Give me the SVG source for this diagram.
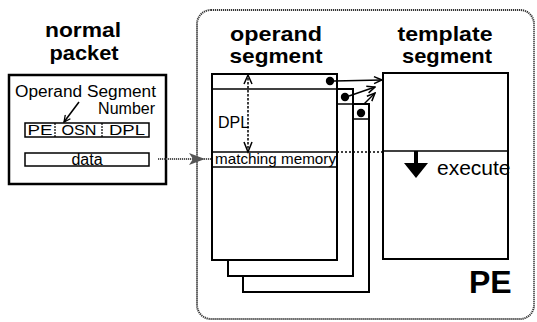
<svg xmlns="http://www.w3.org/2000/svg" width="537" height="322" viewBox="0 0 537 322">
<style>
text{font-family:"Liberation Sans",Arial,Helvetica,sans-serif;fill:#000}
.h{font-weight:bold;font-size:21px;text-anchor:middle}
.box{fill:#fff;stroke:#000;stroke-width:2}
.ln{stroke:#000;stroke-width:1.5;fill:none}
.dot{fill:#000}
</style>
<defs>
<marker id="open" viewBox="0 0 10 10" refX="9" refY="5" markerWidth="8" markerHeight="8" orient="auto" markerUnits="userSpaceOnUse">
<path d="M1,1 L9,5 L1,9" fill="none" stroke="#000" stroke-width="1.6"/>
</marker>
<marker id="openv" viewBox="0 0 10 10" refX="9" refY="5" markerWidth="10" markerHeight="10" orient="auto" markerUnits="userSpaceOnUse">
<path d="M1,1.5 L9,5 L1,8.5" fill="none" stroke="#000" stroke-width="1.5"/>
</marker>
</defs>
<g id="pe">
<rect x="197" y="10" width="337" height="309" rx="14" fill="none" stroke="#333" stroke-width="2" stroke-dasharray="1.2 0.8"/>
<text x="469" y="293" style="font-weight:bold;font-size:32px">PE</text>
</g>
<g id="packet">
<text class="h" x="83" y="37" textLength="76" lengthAdjust="spacingAndGlyphs">normal</text>
<text class="h" x="84" y="60" textLength="69" lengthAdjust="spacingAndGlyphs">packet</text>
<rect x="9" y="75" width="157" height="109" fill="#fff" stroke="#000" stroke-width="2.5"/>
<text x="15" y="97" style="font-size:16px" textLength="141" lengthAdjust="spacingAndGlyphs">Operand Segment</text>
<text x="155" y="114" style="font-size:16px;text-anchor:end">Number</text>
<rect x="25" y="123" width="124" height="14" fill="none" stroke="#000" stroke-width="1.5"/>
<line x1="55" y1="123" x2="55" y2="137" stroke="#000" stroke-width="1.2" stroke-dasharray="2 1"/>
<line x1="102" y1="123" x2="102" y2="137" stroke="#000" stroke-width="1.2" stroke-dasharray="2 1"/>
<text x="40" y="135" style="font-size:15px;text-anchor:middle" textLength="25" lengthAdjust="spacingAndGlyphs">PE</text>
<text x="79" y="135" style="font-size:15px;text-anchor:middle" textLength="35" lengthAdjust="spacingAndGlyphs">OSN</text>
<text x="127" y="135" style="font-size:15px;text-anchor:middle" textLength="36" lengthAdjust="spacingAndGlyphs">DPL</text>
<line x1="79" y1="102" x2="64" y2="122" class="ln" marker-end="url(#open)"/>
<rect x="25" y="153" width="124" height="13" fill="none" stroke="#000" stroke-width="1.5"/>
<text x="87" y="165" style="font-size:16px;text-anchor:middle">data</text>
</g>
<g id="operand-segment">
<text class="h" x="276" y="41" textLength="92" lengthAdjust="spacingAndGlyphs">operand</text>
<text class="h" x="276" y="63" textLength="93" lengthAdjust="spacingAndGlyphs">segment</text>
<rect class="box" x="243" y="104" width="126" height="188"/>
<line class="ln" x1="353" y1="119" x2="369" y2="119"/>
<rect class="box" x="228" y="89" width="125" height="187"/>
<line class="ln" x1="337" y1="104" x2="353" y2="104"/>
<rect class="box" x="212" y="74" width="125" height="186"/>
<line class="ln" x1="212" y1="89" x2="337" y2="89"/>
<line class="ln" x1="212" y1="152" x2="337" y2="152"/>
<line class="ln" x1="212" y1="167" x2="337" y2="167"/>
<text x="215" y="164" style="font-size:15px" textLength="121" lengthAdjust="spacingAndGlyphs">matching memory</text>
<text x="218" y="128" style="font-size:16px">DPL</text>
<line x1="248" y1="78" x2="248" y2="150" stroke="#000" stroke-width="1.5" stroke-dasharray="2.5 1.5"/>
<path d="M244,84 L248,75 L252,84" fill="none" stroke="#000" stroke-width="1.5"/>
<path d="M244,142 L248,152 L252,142" fill="none" stroke="#000" stroke-width="1.5"/>
<circle class="dot" cx="330" cy="81" r="4.2"/>
<circle class="dot" cx="345" cy="97" r="4.2"/>
<circle class="dot" cx="361" cy="113" r="4.2"/>
</g>
<g id="template-segment">
<text class="h" x="445" y="41" textLength="95" lengthAdjust="spacingAndGlyphs">template</text>
<text class="h" x="447" y="63" textLength="90" lengthAdjust="spacingAndGlyphs">segment</text>
<rect class="box" x="383" y="73" width="125" height="186"/>
<line class="ln" x1="383" y1="151" x2="508" y2="151"/>
<rect x="414" y="151" width="4" height="13" fill="#000"/>
<polygon points="404,163 428,163 416,178" fill="#000"/>
<text x="437" y="175" style="font-size:21px">execute</text>
</g>
<g id="connectors">
<line x1="158" y1="159" x2="211" y2="159" stroke="#555" stroke-width="2" stroke-dasharray="1.2 0.8"/>
<polygon points="189,153 205,159 189,165 193,159" fill="#555"/>
<line x1="337" y1="152" x2="383" y2="152" stroke="#000" stroke-width="1.5" stroke-dasharray="2 2"/>
<line class="ln" x1="334" y1="81" x2="382" y2="80" marker-end="url(#openv)"/>
<line class="ln" x1="349" y1="96" x2="375" y2="87" marker-end="url(#openv)"/>
<line class="ln" x1="364" y1="104" x2="375" y2="93" marker-end="url(#openv)"/>
</g>
</svg>
